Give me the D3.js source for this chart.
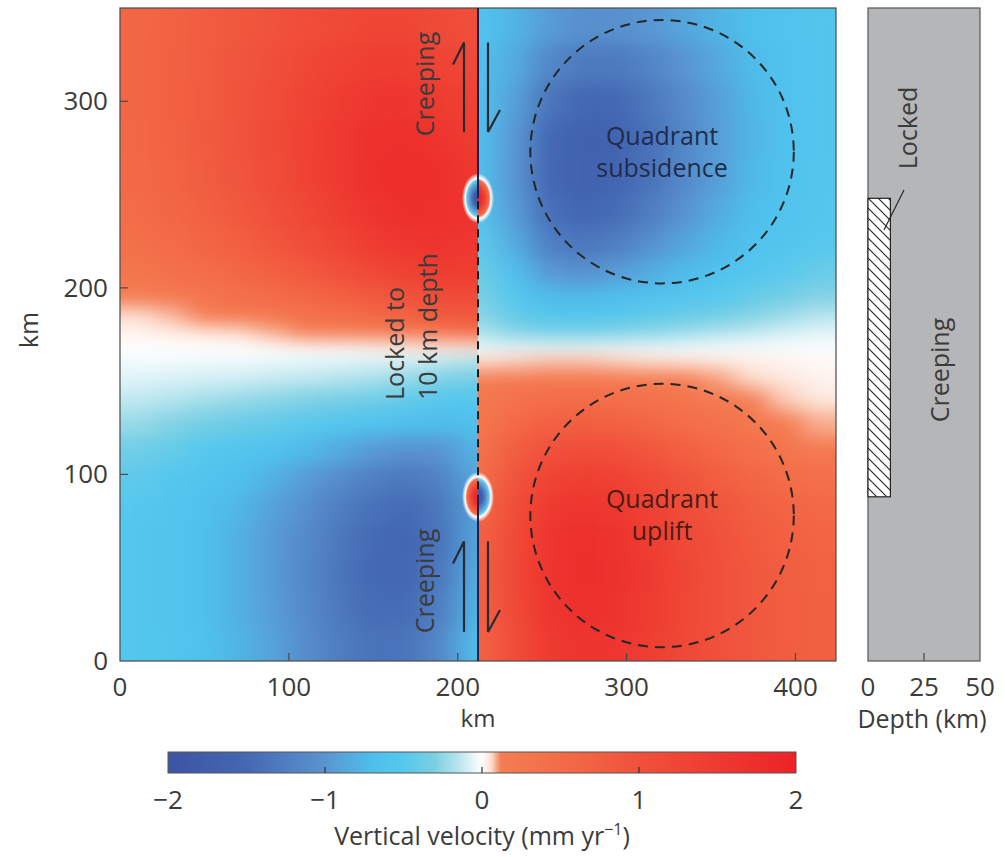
<!DOCTYPE html>
<html>
<head>
<meta charset="utf-8">
<script src="https://cdn.jsdelivr.net/npm/d3@7"></script>
<style>
  body { margin: 0; background: #ffffff; }
  svg text { font-family: "Open Sans", "DejaVu Sans", sans-serif; fill: #3b3b3b; }
</style>
</head>
<body>
<svg id="chart" width="1005" height="857"></svg>
<script>
// ---------------- data ----------------
// Along-strike (y) cell edges in km, top to bottom
const rowEdgesKm = [350, 330, 310, 290, 270, 250, 232, 216, 202, 190, 180, 172, 164, 156, 146, 134, 120, 105, 90, 74, 56, 38, 19, 0];
// Across-strike (x) cell edges in km, west and east of the fault
const westColEdgesKm = [0, 20, 40, 60, 80, 100, 120, 140, 160, 180, 200, 212];
const eastColEdgesKm = [212, 224, 244, 264, 284, 304, 324, 344, 364, 384, 404, 424];

// Vertical velocity (mm/yr) west of the fault, one row per along-strike band
const westVelocity = [
  [0.60, 0.68, 0.78, 0.88, 0.98, 1.08, 1.18, 1.25, 1.25, 1.15, 1.05],
  [0.60, 0.70, 0.80, 0.92, 1.05, 1.20, 1.32, 1.42, 1.42, 1.30, 1.15],
  [0.60, 0.70, 0.82, 0.95, 1.10, 1.28, 1.45, 1.58, 1.60, 1.45, 1.30],
  [0.58, 0.68, 0.82, 0.96, 1.12, 1.32, 1.52, 1.68, 1.72, 1.60, 1.45],
  [0.55, 0.65, 0.78, 0.93, 1.10, 1.30, 1.52, 1.70, 1.78, 1.70, 1.55],
  [0.50, 0.60, 0.72, 0.86, 1.02, 1.20, 1.42, 1.62, 1.72, 1.70, 1.60],
  [0.42, 0.52, 0.62, 0.75, 0.90, 1.06, 1.25, 1.45, 1.58, 1.62, 1.55],
  [0.28, 0.38, 0.48, 0.60, 0.72, 0.86, 1.02, 1.20, 1.35, 1.45, 1.42],
  [0.12, 0.20, 0.30, 0.40, 0.50, 0.60, 0.72, 0.86, 1.00, 1.15, 1.15],
  [0.05, 0.08, 0.13, 0.19, 0.26, 0.34, 0.42, 0.52, 0.65, 0.80, 0.85],
  [0.02, 0.03, 0.04, 0.06, 0.09, 0.12, 0.16, 0.22, 0.30, 0.42, 0.50],
  [0.00, 0.00, 0.00, 0.00, 0.00, 0.01, 0.01, 0.02, 0.03, 0.04, 0.05],
  [-0.03, -0.03, -0.04, -0.04, -0.05, -0.06, -0.07, -0.08, -0.10, -0.14, -0.18],
  [-0.07, -0.08, -0.09, -0.10, -0.12, -0.14, -0.16, -0.19, -0.24, -0.30, -0.35],
  [-0.13, -0.16, -0.20, -0.23, -0.26, -0.29, -0.33, -0.37, -0.43, -0.50, -0.52],
  [-0.23, -0.28, -0.34, -0.39, -0.43, -0.48, -0.55, -0.62, -0.68, -0.72, -0.65],
  [-0.36, -0.42, -0.50, -0.56, -0.64, -0.74, -0.85, -0.96, -1.04, -1.00, -0.78],
  [-0.45, -0.52, -0.60, -0.68, -0.80, -0.95, -1.10, -1.24, -1.32, -1.20, -0.85],
  [-0.50, -0.56, -0.65, -0.75, -0.90, -1.06, -1.25, -1.40, -1.48, -1.32, -0.90],
  [-0.52, -0.58, -0.68, -0.80, -0.95, -1.12, -1.32, -1.48, -1.54, -1.36, -0.88],
  [-0.52, -0.58, -0.68, -0.80, -0.95, -1.14, -1.34, -1.50, -1.52, -1.32, -0.82],
  [-0.52, -0.58, -0.68, -0.80, -0.94, -1.12, -1.32, -1.46, -1.46, -1.24, -0.76],
  [-0.52, -0.57, -0.66, -0.77, -0.90, -1.08, -1.26, -1.38, -1.36, -1.12, -0.68]
];

// Vertical velocity (mm/yr) east of the fault
const eastVelocity = [
  [-0.60, -0.78, -0.95, -1.05, -1.05, -0.98, -0.88, -0.78, -0.68, -0.62, -0.56],
  [-0.62, -0.85, -1.15, -1.30, -1.30, -1.18, -1.00, -0.86, -0.72, -0.63, -0.56],
  [-0.64, -0.92, -1.35, -1.52, -1.50, -1.32, -1.10, -0.92, -0.75, -0.64, -0.56],
  [-0.65, -0.98, -1.50, -1.65, -1.60, -1.40, -1.15, -0.94, -0.76, -0.64, -0.56],
  [-0.62, -1.00, -1.52, -1.66, -1.58, -1.38, -1.12, -0.92, -0.74, -0.63, -0.55],
  [-0.55, -0.95, -1.42, -1.55, -1.46, -1.26, -1.02, -0.84, -0.70, -0.61, -0.53],
  [-0.45, -0.84, -1.24, -1.34, -1.25, -1.06, -0.88, -0.75, -0.64, -0.57, -0.49],
  [-0.38, -0.68, -0.98, -1.04, -0.96, -0.84, -0.72, -0.63, -0.55, -0.48, -0.40],
  [-0.30, -0.54, -0.72, -0.74, -0.70, -0.63, -0.56, -0.49, -0.42, -0.35, -0.28],
  [-0.25, -0.42, -0.52, -0.52, -0.49, -0.44, -0.39, -0.33, -0.27, -0.21, -0.15],
  [-0.18, -0.27, -0.31, -0.31, -0.29, -0.26, -0.22, -0.17, -0.13, -0.09, -0.06],
  [-0.04, -0.05, -0.05, -0.05, -0.04, -0.04, -0.03, -0.02, -0.02, -0.01, -0.01],
  [0.06, 0.07, 0.08, 0.08, 0.07, 0.06, 0.05, 0.04, 0.03, 0.02, 0.01],
  [0.14, 0.20, 0.24, 0.24, 0.22, 0.18, 0.14, 0.10, 0.06, 0.04, 0.02],
  [0.20, 0.36, 0.46, 0.48, 0.44, 0.36, 0.28, 0.20, 0.12, 0.07, 0.04],
  [0.26, 0.55, 0.70, 0.74, 0.70, 0.60, 0.48, 0.36, 0.24, 0.14, 0.09],
  [0.34, 0.78, 1.02, 1.10, 1.05, 0.90, 0.74, 0.58, 0.44, 0.30, 0.20],
  [0.44, 0.95, 1.30, 1.40, 1.34, 1.16, 0.95, 0.78, 0.62, 0.50, 0.40],
  [0.56, 1.08, 1.50, 1.60, 1.52, 1.34, 1.10, 0.92, 0.76, 0.64, 0.56],
  [0.66, 1.16, 1.60, 1.72, 1.64, 1.44, 1.20, 1.00, 0.84, 0.73, 0.65],
  [0.70, 1.20, 1.62, 1.74, 1.66, 1.47, 1.23, 1.03, 0.88, 0.77, 0.69],
  [0.68, 1.16, 1.58, 1.70, 1.64, 1.46, 1.22, 1.02, 0.88, 0.78, 0.70],
  [0.64, 1.10, 1.50, 1.62, 1.58, 1.42, 1.20, 1.00, 0.88, 0.78, 0.70]
];

// Fault trace and locked patch
const faultXKm = [212];
const lockedAlongKm = [88, 248];
const lockedDepthKm = [0, 10];
// Velocity dipoles at the two ends of the locked patch (west, east side)
const tipAlongKm = [248, 88];
const tipWestValue = [-2, 2];
const tipEastValue = [2, -2];

// Colour scale for vertical velocity
const colorStops = [-2, -1.5, -1.0, -0.7, -0.5, -0.3, -0.15, 0, 0.06, 0.12, 0.5, 1.0, 1.5, 2];
const colorHex = ["#3b54a4", "#4468b3", "#5a94d0", "#4ebfec", "#55c8ee", "#7bcfe2", "#b8e5ee", "#ffffff",
                  "#fcdccd", "#f47d52", "#f36c47", "#f0513b", "#ee3a30", "#ec2227"];

// Ticks
const xTicksKm = [0, 100, 200, 300, 400];
const yTicksKm = [0, 100, 200, 300];
const depthTicksKm = [0, 25, 50];
const colorTicks = [-2, -1, 0, 1, 2];

// Quadrant annotations (centre in km, radius in km along x)
const quadrantLabels = [["Quadrant", "subsidence"], ["Quadrant", "uplift"]];
const quadrantCentreXKm = [321, 321];
const quadrantCentreYKm = [273, 78];
const quadrantRadiusKm = [78, 78];

// ---------------- layout ----------------
const svg = d3.select("#chart");
const P = { left: 120, right: 836, top: 8, bottom: 661 };
const x = d3.scaleLinear().domain([0, 424]).range([P.left, P.right]);
const y = d3.scaleLinear().domain([0, 350]).range([P.bottom, P.top]);
const depth = d3.scaleLinear().domain([0, 50]).range([868, 980]);
const cbar = d3.scaleLinear().domain([-2, 2]).range([168, 796]);
const CB = { top: 752, bottom: 773 };
const color = d3.scaleLinear().domain(colorStops).range(colorHex).interpolate(d3.interpolateRgb).clamp(true);
const fx = x(faultXKm[0]);
const faultInk = "#1d2150";

const defs = svg.append("defs");

// smoothing filter: blur, then renormalise alpha so edges keep their colour
const filt = defs.append("filter").attr("id", "smooth")
  .attr("x", "-5%").attr("y", "-5%").attr("width", "110%").attr("height", "110%")
  .attr("color-interpolation-filters", "sRGB");
filt.append("feGaussianBlur").attr("stdDeviation", "13 9");
filt.append("feComponentTransfer").append("feFuncA").attr("type", "table").attr("tableValues", "1 1");

defs.append("clipPath").attr("id", "clipWest").append("rect")
  .attr("x", P.left).attr("y", P.top).attr("width", fx - P.left).attr("height", P.bottom - P.top);
defs.append("clipPath").attr("id", "clipEast").append("rect")
  .attr("x", fx).attr("y", P.top).attr("width", P.right - fx).attr("height", P.bottom - P.top);

function cellsOf(values, colEdges) {
  const out = [];
  values.forEach((row, i) => row.forEach((v, j) => out.push({
    x0: colEdges[j], x1: colEdges[j + 1], yTop: rowEdgesKm[i], yBot: rowEdgesKm[i + 1], v
  })));
  return out;
}

function drawHalf(id, values, colEdges, tipValues) {
  const g = svg.append("g").attr("clip-path", `url(#${id})`);
  g.append("g").attr("filter", "url(#smooth)")
    .selectAll("rect").data(cellsOf(values, colEdges)).join("rect")
    .attr("x", d => x(d.x0)).attr("y", d => y(d.yTop))
    .attr("width", d => x(d.x1) - x(d.x0) + 0.5)
    .attr("height", d => y(d.yBot) - y(d.yTop) + 0.5)
    .attr("shape-rendering", "crispEdges")
    .attr("fill", d => color(d.v));
  // dipole lobes at the ends of the locked patch
  tipAlongKm.forEach((a, k) => {
    const v = tipValues[k];
    const gid = `${id}-tip${k}`;
    const grad = defs.append("radialGradient").attr("id", gid);
    [[0, v], [0.28, v * 0.85], [0.52, v * 0.5], [0.7, v * 0.2], [0.8, 0]].forEach(([o, val]) =>
      grad.append("stop").attr("offset", o).attr("stop-color", color(val)));
    grad.append("stop").attr("offset", 0.9).attr("stop-color", "#ffffff").attr("stop-opacity", 0.55);
    grad.append("stop").attr("offset", 1).attr("stop-color", "#ffffff").attr("stop-opacity", 0);
    g.append("ellipse")
      .attr("cx", fx).attr("cy", y(a))
      .attr("rx", x(9.5) - x(0)).attr("ry", y(0) - y(13.5))
      .attr("fill", `url(#${gid})`);
  });
}
drawHalf("clipWest", westVelocity, westColEdgesKm, tipWestValue);
drawHalf("clipEast", eastVelocity, eastColEdgesKm, tipEastValue);

// frame
svg.append("rect").attr("x", P.left).attr("y", P.top)
  .attr("width", P.right - P.left).attr("height", P.bottom - P.top)
  .attr("fill", "none").attr("stroke", "#4a4a4a").attr("stroke-width", 1.2);

// fault trace: creeping parts solid, locked part dashed
const fault = svg.append("g").attr("stroke", faultInk).attr("stroke-width", 2).attr("fill", "none");
fault.append("line").attr("x1", fx).attr("x2", fx).attr("y1", y(350)).attr("y2", y(lockedAlongKm[1]));
fault.append("line").attr("x1", fx).attr("x2", fx).attr("y1", y(lockedAlongKm[0])).attr("y2", y(0));
fault.append("line").attr("x1", fx).attr("x2", fx).attr("y1", y(lockedAlongKm[1]) + 3).attr("y2", y(lockedAlongKm[0]))
  .attr("stroke", "#1a1a1a").attr("stroke-dasharray", "8 6");

// creep arrows (half-headed)
const arrows = svg.append("g").attr("stroke", "#2a2a35").attr("stroke-width", 2.2).attr("fill", "none");
[[331.5, 283.5], [64, 15.5]].forEach(([topKm, botKm]) => {
  const yt = y(topKm), yb = y(botKm);
  arrows.append("path").attr("d", `M${fx - 14},${yb} L${fx - 14},${yt} L${fx - 25},${yt + 22}`);
  arrows.append("path").attr("d", `M${fx + 10},${yt} L${fx + 10},${yb} L${fx + 22},${yb - 22}`);
});

// quadrant circles and labels
const quad = svg.append("g");
quadrantLabels.forEach((lab, i) => {
  const cx = x(quadrantCentreXKm[i]), cy = y(quadrantCentreYKm[i]);
  quad.append("circle").attr("cx", cx).attr("cy", cy)
    .attr("r", x(quadrantRadiusKm[i]) - x(0))
    .attr("fill", "none").attr("stroke", "#262626").attr("stroke-width", 2).attr("stroke-dasharray", "10 7");
  const t = quad.append("text").attr("text-anchor", "middle").attr("font-size", 25)
    .style("fill", i === 0 ? "#1f2c4c" : "#4b1d15");
  lab.forEach((s, k) => t.append("tspan").attr("x", cx).attr("y", cy - 7 + k * 32).text(s));
});

// rotated annotations in the main panel
function vtext(px, py, str, anchor) {
  svg.append("text").attr("transform", `translate(${px},${py}) rotate(-90)`)
    .attr("text-anchor", anchor || "middle").attr("font-size", 25).text(str);
}
vtext(434, 84, "Creeping");
vtext(434, 581, "Creeping");
vtext(404, 400, "Locked to", "start");
vtext(437, 400, "10 km depth", "start");

// axes (ticks point inward)
const axX = svg.append("g");
xTicksKm.forEach(t => {
  if (t > 0) axX.append("line").attr("x1", x(t)).attr("x2", x(t)).attr("y1", P.bottom).attr("y2", P.bottom - 8)
    .attr("stroke", "#4a4a4a").attr("stroke-width", 1.2);
  axX.append("text").attr("x", x(t)).attr("y", 696).attr("text-anchor", "middle").attr("font-size", 26).text(t);
});
svg.append("text").attr("x", x(212)).attr("y", 727).attr("text-anchor", "middle").attr("font-size", 24).text("km");

const axY = svg.append("g");
yTicksKm.forEach(t => {
  if (t > 0) axY.append("line").attr("x1", P.left).attr("x2", P.left + 8).attr("y1", y(t)).attr("y2", y(t))
    .attr("stroke", "#4a4a4a").attr("stroke-width", 1.2);
  axY.append("text").attr("x", 108).attr("y", y(t) + 9).attr("text-anchor", "end").attr("font-size", 26).text(t);
});
vtext(38, 330, "km");

// depth panel
const dp = svg.append("g");
dp.append("rect").attr("x", depth(0)).attr("y", P.top).attr("width", depth(50) - depth(0)).attr("height", P.bottom - P.top)
  .attr("fill", "#b5b6b8").attr("stroke", "#555").attr("stroke-width", 1.2);
const hatch = defs.append("pattern").attr("id", "hatch").attr("patternUnits", "userSpaceOnUse")
  .attr("width", 10).attr("height", 10);
hatch.append("rect").attr("width", 10).attr("height", 10).attr("fill", "#ffffff");
hatch.append("path").attr("d", "M0,0 L10,10 M-5,5 L5,15 M5,-5 L15,5").attr("stroke", "#2a2a2a").attr("stroke-width", 1.2);
dp.append("rect").attr("x", depth(lockedDepthKm[0])).attr("y", y(lockedAlongKm[1]))
  .attr("width", depth(lockedDepthKm[1]) - depth(lockedDepthKm[0]))
  .attr("height", y(lockedAlongKm[0]) - y(lockedAlongKm[1]))
  .attr("fill", "url(#hatch)").attr("stroke", "#222").attr("stroke-width", 1.2);
depthTicksKm.forEach(t => {
  if (t > 0 && t < 50) dp.append("line").attr("x1", depth(t)).attr("x2", depth(t)).attr("y1", P.bottom).attr("y2", P.bottom - 8)
    .attr("stroke", "#444").attr("stroke-width", 1.2);
  dp.append("text").attr("x", depth(t)).attr("y", 696).attr("text-anchor", "middle").attr("font-size", 26).text(t);
});
svg.append("text").attr("x", depth(25) - 2).attr("y", 728).attr("text-anchor", "middle").attr("font-size", 25).text("Depth (km)");
dp.append("line").attr("x1", 904).attr("y1", 190).attr("x2", 884).attr("y2", 230).attr("stroke", "#2a2a2a").attr("stroke-width", 1.3);
vtext(917, 128, "Locked");
vtext(949, 370, "Creeping");

// colour bar
const grad = defs.append("linearGradient").attr("id", "cbarGrad");
colorStops.forEach((s, i) => grad.append("stop").attr("offset", (s + 2) / 4).attr("stop-color", colorHex[i]));
svg.append("rect").attr("x", cbar(-2)).attr("y", CB.top).attr("width", cbar(2) - cbar(-2)).attr("height", CB.bottom - CB.top)
  .attr("fill", "url(#cbarGrad)").attr("stroke", "#555").attr("stroke-width", 1);
colorTicks.forEach(t => {
  if (t > -2 && t < 2) svg.append("line").attr("x1", cbar(t)).attr("x2", cbar(t)).attr("y1", CB.bottom).attr("y2", CB.bottom - 6)
    .attr("stroke", "#333").attr("stroke-width", 1.2);
  svg.append("text").attr("x", cbar(t)).attr("y", 809).attr("text-anchor", "middle").attr("font-size", 26)
    .text(t < 0 ? "\u2212" + Math.abs(t) : t);
});
const cl = svg.append("text").attr("x", cbar(0)).attr("y", 845).attr("text-anchor", "middle").attr("font-size", 25);
cl.append("tspan").text("Vertical velocity (mm yr");
cl.append("tspan").attr("font-size", 16).attr("dy", -10).text("\u22121");
cl.append("tspan").attr("dy", 10).text(")");
</script>
</body>
</html>
